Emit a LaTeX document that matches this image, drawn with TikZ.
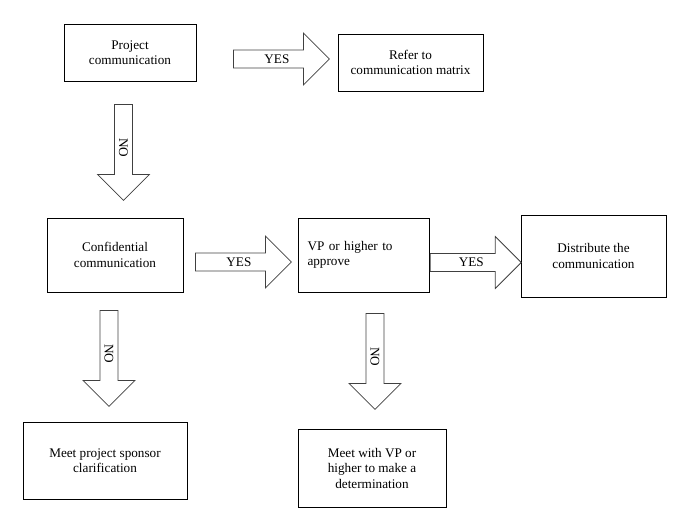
\documentclass[tikz,border=0pt]{standalone}
\usepackage{fontspec}
\setmainfont{Liberation Serif}
\usetikzlibrary{shapes.arrows}

\begin{document}
\begin{tikzpicture}[x=1pt, y=-1pt, line width=0.8pt,
  font=\fontsize{13.2}{15.5}\selectfont,
  box/.style={draw, rectangle, align=center, inner sep=2pt},
  bigarrow/.style={draw=black!75, single arrow, single arrow head extend=13pt,
    minimum width=52pt, minimum height=96pt, anchor=tail, inner sep=2pt}]
\useasboundingbox (0,0) rectangle (685,511);

  \node[box, minimum width=132pt, minimum height=57pt] (proj) at (130,52.5) {Project\\communication};
  \node[box, minimum width=145pt, minimum height=57pt] (refer) at (410.5,62.5) {Refer to\\communication matrix};

  \node[box, minimum width=136pt, minimum height=74pt] (conf) at (115,255) {Confidential\\communication};
  \node[box, align=left, text width=113pt, inner xsep=9pt, minimum height=74pt] (vp) at (364,255) {VP or higher to\\approve};
  \node[box, minimum width=145pt, minimum height=82pt] (dist) at (593.5,256) {Distribute the\\communication};

  \node[box, minimum width=164pt, minimum height=77pt] (sponsor) at (105,460.5) {Meet project sponsor\\clarification};
  \node[box, minimum width=148pt, minimum height=78pt] (meetvp) at (372,468) {Meet with VP or\\higher to make a\\determination};

  % yes / no arrows
  \node[bigarrow] (yes1) at (233,59) {YES};
  \node[bigarrow] (yes2) at (195,262) {YES};
  \node[bigarrow, minimum height=91pt] (yes3) at (vp.east |- 0,262.5) {YES};
  \node[bigarrow, rotate=-90] (no1) at (123.5,104) {NO};
  \node[bigarrow, rotate=-90] (no2) at (109,310) {NO};
  \node[bigarrow, rotate=-90] (no3) at (375,313) {NO};
\end{tikzpicture}
\end{document}
